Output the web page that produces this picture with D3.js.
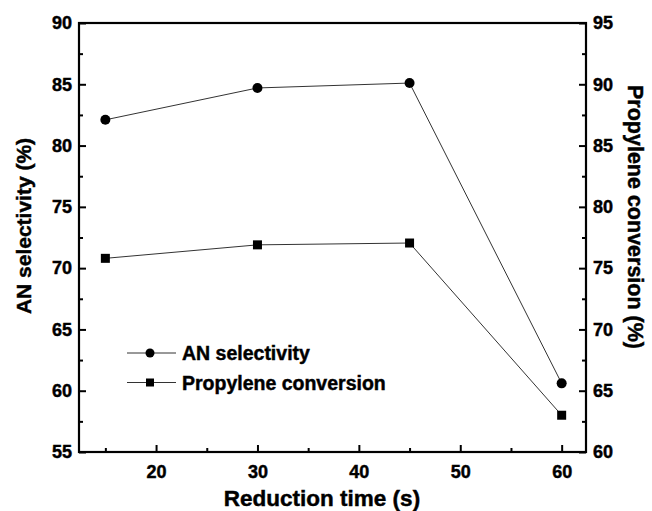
<!DOCTYPE html>
<html>
<head>
<meta charset="utf-8">
<script src="https://cdn.jsdelivr.net/npm/d3@7"></script>
<style>
  body { margin: 0; background: #fff; }
  text { font-family: "Liberation Sans", Arial, sans-serif; font-weight: bold; fill: #000; stroke: #000; stroke-width: 0.45px; }
</style>
</head>
<body>
<div id="chart"></div>
<script>
// data
var times = [15, 30, 45, 60];
var anSelectivity = [82.1, 84.7, 85.1, 60.6];
var propyleneConversion = [75.8, 76.9, 77.05, 63.0];
var xTicks = [20, 30, 40, 50, 60];
var leftTicks = [55, 60, 65, 70, 75, 80, 85, 90];
var rightTicks = [60, 65, 70, 75, 80, 85, 90, 95];

var W = 652, H = 511;
var margin = {top: 23, right: 66, bottom: 59, left: 79};
var width = W - margin.left - margin.right;
var height = H - margin.top - margin.bottom;

var svg = d3.select("#chart").append("svg")
    .attr("width", W)
    .attr("height", H);
var g = svg.append("g")
    .attr("transform", "translate(" + margin.left + "," + margin.top + ")");

var x = d3.scaleLinear().domain([12.4, 62.4]).range([0, width]);
var yL = d3.scaleLinear().domain([55, 90]).range([height, 0]);
var yR = d3.scaleLinear().domain([60, 95]).range([height, 0]);

// minor tick positions
function minors(lo, hi, step) {
    var out = [];
    for (var v = lo; v <= hi + 1e-9; v += step) out.push(v);
    return out;
}

// bottom axis
var xMinor = g.append("g").attr("transform", "translate(0," + height + ")")
    .call(d3.axisBottom(x).tickValues(minors(15, 55, 10)).tickSize(-4).tickFormat(""));
var xAxis = g.append("g").attr("transform", "translate(0," + height + ")")
    .call(d3.axisBottom(x).tickValues(xTicks).tickSize(-7).tickPadding(13).tickFormat(d3.format("d")));

// left axis
var lMinor = g.append("g")
    .call(d3.axisLeft(yL).tickValues(minors(57.5, 87.5, 5)).tickSize(-4).tickFormat(""));
var lAxis = g.append("g")
    .call(d3.axisLeft(yL).tickValues(leftTicks).tickSize(-7).tickPadding(7).tickFormat(d3.format("d")));

// right axis
var rMinor = g.append("g").attr("transform", "translate(" + width + ",0)")
    .call(d3.axisRight(yR).tickValues(minors(62.5, 92.5, 5)).tickSize(-4).tickFormat(""));
var rAxis = g.append("g").attr("transform", "translate(" + width + ",0)")
    .call(d3.axisRight(yR).tickValues(rightTicks).tickSize(-7).tickPadding(7).tickFormat(d3.format("d")));

[xMinor, xAxis, lMinor, lAxis, rMinor, rAxis].forEach(function(a) {
    a.attr("font-family", null).attr("font-size", null);
    a.select(".domain").remove();
    a.selectAll(".tick line").attr("stroke", "#000").attr("stroke-width", 2);
    a.selectAll(".tick text")
        .style("font-family", "Liberation Sans, Arial, sans-serif")
        .style("font-weight", "bold")
        .style("font-size", "18px");
});

// frame
g.append("rect")
    .attr("x", 0).attr("y", 0)
    .attr("width", width).attr("height", height)
    .attr("fill", "none").attr("stroke", "#000").attr("stroke-width", 2.2);

var line = d3.line();

// AN selectivity
var anPts = times.map(function(t, i) { return [x(t), yL(anSelectivity[i])]; });
g.append("path").attr("d", line(anPts))
    .attr("fill", "none").attr("stroke", "#333").attr("stroke-width", 1);
g.selectAll("circle.an").data(anPts).enter().append("circle")
    .attr("class", "an")
    .attr("cx", function(d) { return d[0]; })
    .attr("cy", function(d) { return d[1]; })
    .attr("r", 5).attr("fill", "#000");

// Propylene conversion
var pcPts = times.map(function(t, i) { return [x(t), yR(propyleneConversion[i])]; });
g.append("path").attr("d", line(pcPts))
    .attr("fill", "none").attr("stroke", "#333").attr("stroke-width", 1);
g.selectAll("rect.pc").data(pcPts).enter().append("rect")
    .attr("class", "pc")
    .attr("x", function(d) { return d[0] - 4.5; })
    .attr("y", function(d) { return d[1] - 4.5; })
    .attr("width", 9).attr("height", 9).attr("fill", "#000");

// legend
var legend = g.append("g").attr("transform", "translate(48,330)");
var items = ["AN selectivity", "Propylene conversion"];
items.forEach(function(name, i) {
    var row = legend.append("g").attr("transform", "translate(0," + (i * 29.5) + ")");
    row.append("line").attr("x1", 0).attr("x2", 49).attr("y1", 0).attr("y2", 0)
        .attr("stroke", "#333").attr("stroke-width", 1);
    if (i === 0) row.append("circle").attr("cx", 23).attr("cy", 0).attr("r", 4.5).attr("fill", "#000");
    else row.append("rect").attr("x", 19).attr("y", -4).attr("width", 8).attr("height", 8).attr("fill", "#000");
    row.append("text").attr("x", 55).attr("y", 7).style("font-size", "19.5px").text(name);
});

// axis titles
svg.append("text")
    .attr("x", 322).attr("y", 506)
    .attr("text-anchor", "middle").style("font-size", "22.5px")
    .text("Reduction time (s)");
svg.append("text")
    .attr("transform", "translate(31,226) rotate(-90)")
    .attr("text-anchor", "middle").style("font-size", "21px")
    .text("AN selectivity (%)");
svg.append("text")
    .attr("transform", "translate(628,217) rotate(90)")
    .attr("text-anchor", "middle").style("font-size", "21.5px")
    .text("Propylene conversion (%)");
</script>
</body>
</html>
